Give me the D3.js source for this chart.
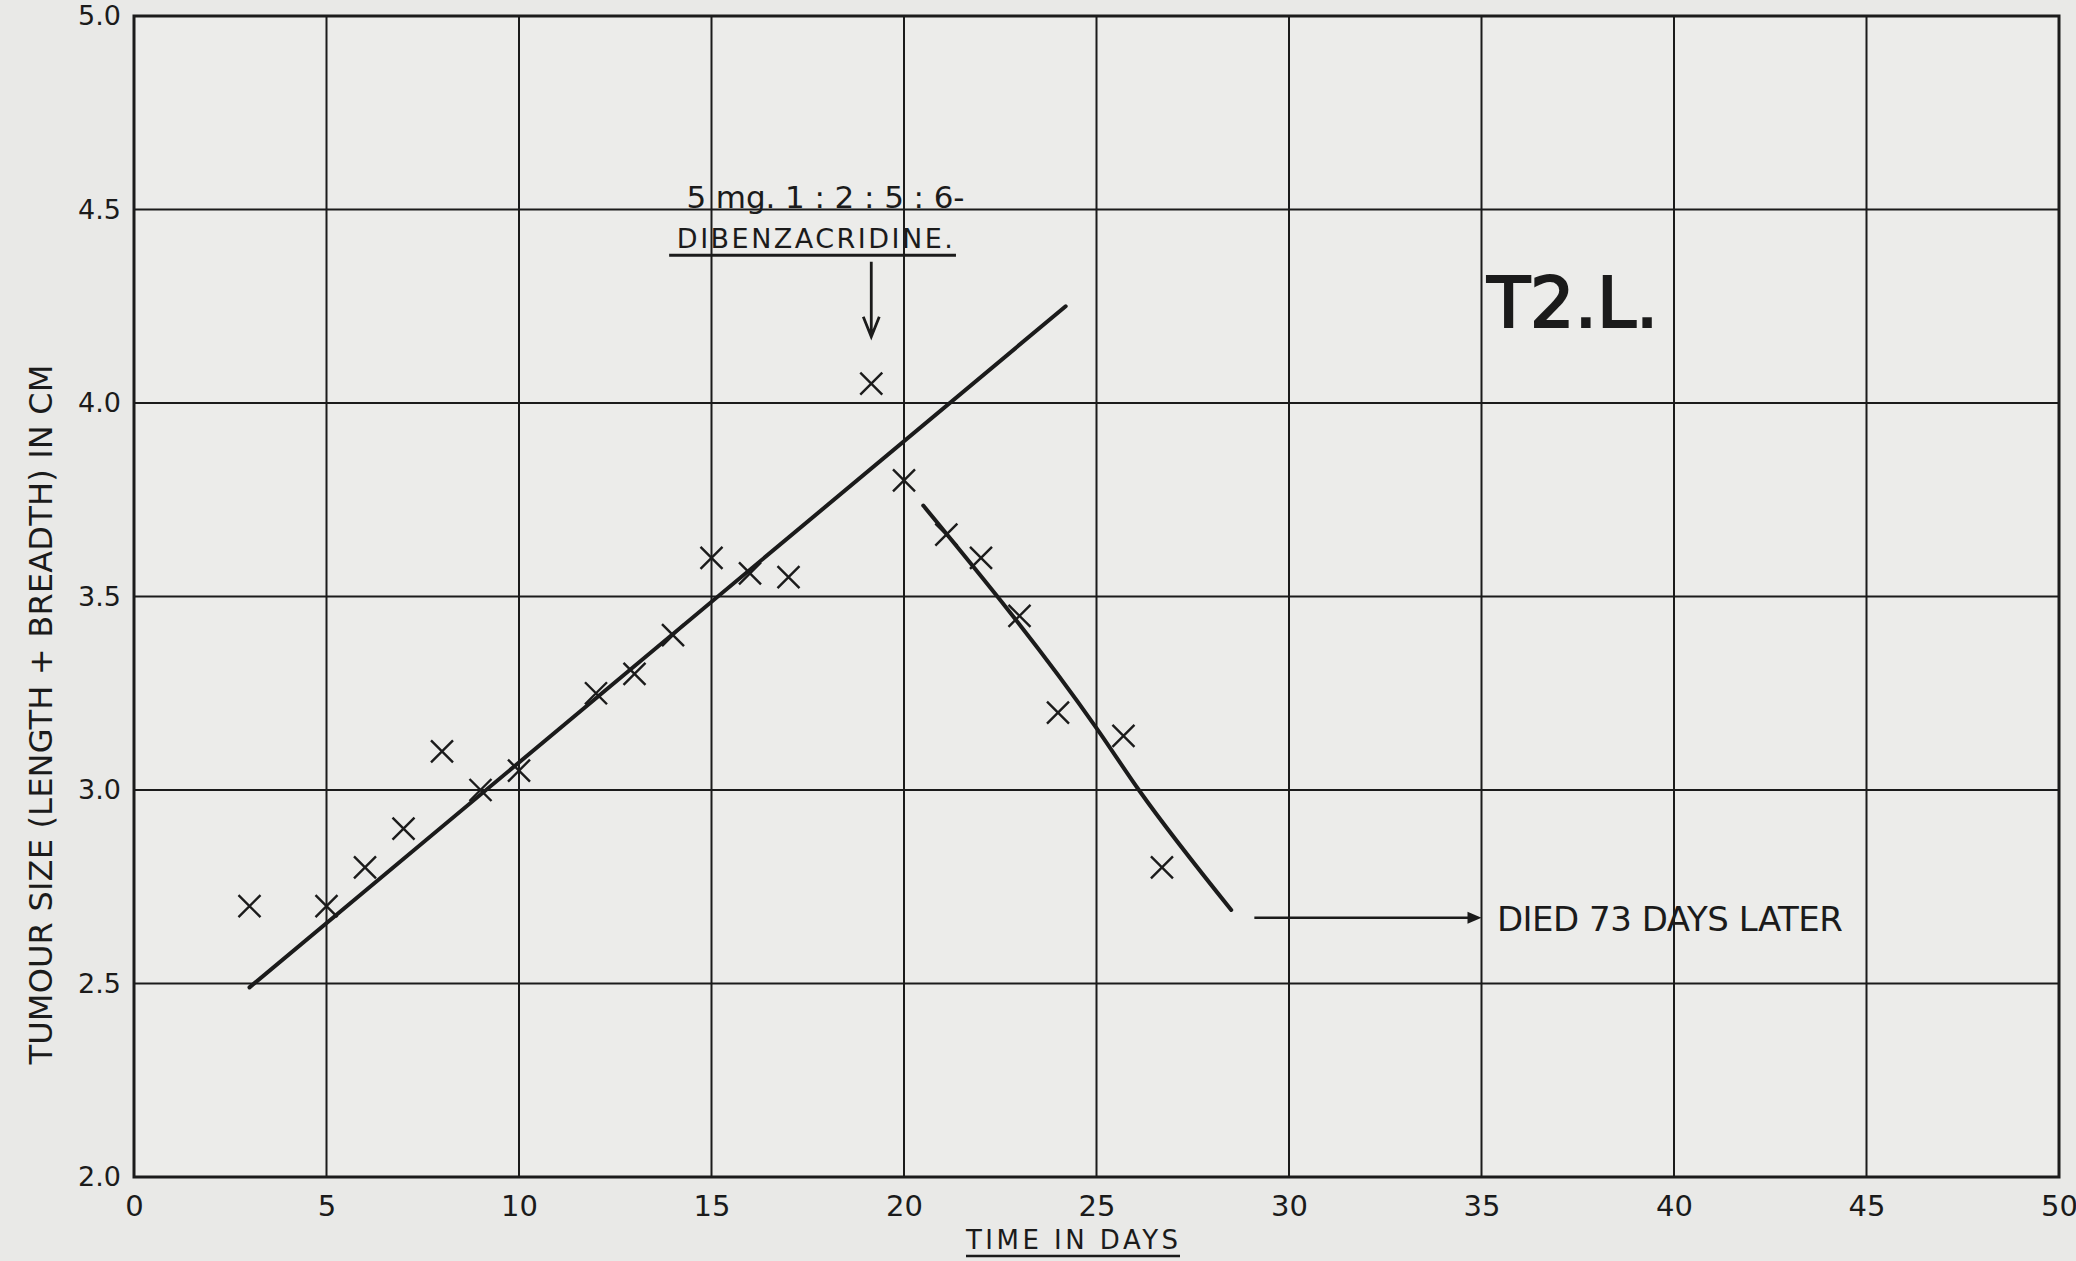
<!DOCTYPE html>
<html>
<head>
<meta charset="utf-8">
<script src="https://cdn.jsdelivr.net/npm/d3@7"></script>
<style>
  body { margin: 0; background: #e9e9e7; }
  svg { display: block; }
</style>
</head>
<body>
<div id="chart"></div>
<script>
// measured points (day, tumour size in cm)
const days  = [3, 5, 6, 7, 8, 9, 10, 12, 13, 14, 15, 16, 17, 19.15, 20, 21.1, 22, 23, 24, 25.7, 26.7];
const sizes = [2.7, 2.7, 2.8, 2.9, 3.1, 3.0, 3.05, 3.25, 3.3, 3.4, 3.6, 3.56, 3.55, 4.05, 3.8, 3.66, 3.6, 3.45, 3.2, 3.14, 2.8];

// hand drawn fit lines
const riseDays  = [3.0, 24.2];
const riseSizes = [2.49, 4.25];
const fallDays  = [20.5, 25.0, 26.1, 28.5];
const fallSizes = [3.735, 3.16, 3.0, 2.69];

const xTicks = [0, 5, 10, 15, 20, 25, 30, 35, 40, 45, 50];
const yTicks = [2.0, 2.5, 3.0, 3.5, 4.0, 4.5, 5.0];

let dimensions = {
  width: 2076,
  height: 1261,
  margin: { top: 16, bottom: 84, left: 134, right: 17 }
};

const ink = '#1b1b1b';
const font = '"DejaVu Sans", "Liberation Sans", sans-serif';

const svg = d3.select('#chart')
  .append('svg')
  .attr('width', dimensions.width)
  .attr('height', dimensions.height)
  .style('font-family', font);

const x = d3.scaleLinear()
  .domain([0, 50])
  .range([dimensions.margin.left, dimensions.width - dimensions.margin.right]);

const y = d3.scaleLinear()
  .domain([2, 5])
  .range([dimensions.height - dimensions.margin.bottom, dimensions.margin.top]);

// paper
svg.append('rect')
  .attr('width', dimensions.width)
  .attr('height', dimensions.height)
  .attr('fill', '#e9e9e7');

svg.append('rect')
  .attr('x', x(0)).attr('y', y(5))
  .attr('width', x(50) - x(0)).attr('height', y(2) - y(5))
  .attr('fill', '#ececea');

// grid
const grid = svg.append('g').attr('stroke', ink).attr('stroke-width', 2);
grid.selectAll('.vx')
  .data(xTicks)
  .join('line')
  .attr('x1', d => x(d)).attr('x2', d => x(d))
  .attr('y1', y(2)).attr('y2', y(5));
grid.selectAll('.hy')
  .data(yTicks)
  .join('line')
  .attr('class', 'hy')
  .attr('y1', d => y(d)).attr('y2', d => y(d))
  .attr('x1', x(0)).attr('x2', x(50));

// frame
svg.append('rect')
  .attr('x', x(0)).attr('y', y(5))
  .attr('width', x(50) - x(0)).attr('height', y(2) - y(5))
  .attr('fill', 'none')
  .attr('stroke', ink)
  .attr('stroke-width', 3);

// axes (labels only, the grid is drawn above)
svg.append('g')
  .attr('transform', `translate(0, ${y(2)})`)
  .call(d3.axisBottom(x).tickValues(xTicks).tickSize(0).tickPadding(18).tickFormat(d3.format('d')))
  .call(g => g.select('.domain').remove())
  .selectAll('text')
  .style('font-size', '29px')
  .style('font-family', font)
  .attr('fill', ink);

svg.append('g')
  .attr('transform', `translate(${x(0)}, 0)`)
  .call(d3.axisLeft(y).tickValues(yTicks).tickSize(0).tickPadding(13).tickFormat(d3.format('.1f')))
  .call(g => g.select('.domain').remove())
  .selectAll('text')
  .style('font-size', '27px')
  .style('font-family', font)
  .attr('fill', ink);

// fit lines
const line = d3.line().x(d => x(d[0])).y(d => y(d[1]));

svg.append('path')
  .datum(d3.zip(riseDays, riseSizes))
  .attr('d', line)
  .attr('fill', 'none')
  .attr('stroke', ink)
  .attr('stroke-width', 4)
  .attr('stroke-linecap', 'round');

svg.append('path')
  .datum(d3.zip(fallDays, fallSizes))
  .attr('d', line.curve(d3.curveMonotoneX))
  .attr('fill', 'none')
  .attr('stroke', ink)
  .attr('stroke-width', 4)
  .attr('stroke-linecap', 'round');

// crosses
svg.append('g')
  .selectAll('path')
  .data(d3.zip(days, sizes))
  .join('path')
  .attr('transform', d => `translate(${x(d[0])}, ${y(d[1])})`)
  .attr('d', 'M-11,-11L11,11M-11,11L11,-11')
  .attr('stroke', ink)
  .attr('stroke-width', 2.4)
  .attr('fill', 'none');

// drug annotation
const note = svg.append('g').attr('fill', ink);
note.append('text')
  .attr('x', x(14.35)).attr('y', y(4.505))
  .attr('textLength', 278).attr('lengthAdjust', 'spacing')
  .style('font-size', '31px')
  .text('5 mg. 1 : 2 : 5 : 6-');
note.append('text')
  .attr('x', x(14.1)).attr('y', y(4.4))
  .attr('textLength', 276).attr('lengthAdjust', 'spacing')
  .style('font-size', '27px')
  .text('DIBENZACRIDINE.');
note.append('line')
  .attr('x1', x(13.9)).attr('x2', x(21.35))
  .attr('y1', y(4.4) + 7).attr('y2', y(4.4) + 7)
  .attr('stroke', ink).attr('stroke-width', 3);

const ax = x(19.15), ay0 = y(4.365), ay1 = y(4.171);
note.append('path')
  .attr('d', `M${ax},${ay0}L${ax},${ay1}M${ax - 8},${ay1 - 20}L${ax},${ay1}L${ax + 8},${ay1 - 20}`)
  .attr('fill', 'none')
  .attr('stroke', ink).attr('stroke-width', 2.8);

// died annotation
const dx0 = x(29.1), dx1 = x(35), dy = y(2.67);
svg.append('line')
  .attr('x1', dx0).attr('x2', dx1 - 10)
  .attr('y1', dy).attr('y2', dy)
  .attr('stroke', ink).attr('stroke-width', 2.5);
svg.append('path')
  .attr('d', `M${dx1},${dy}L${dx1 - 14},${dy - 6}L${dx1 - 14},${dy + 6}Z`)
  .attr('fill', ink);
svg.append('text')
  .attr('x', x(35.4)).attr('y', dy + 13)
  .attr('textLength', 346).attr('lengthAdjust', 'spacing')
  .style('font-size', '34px')
  .attr('fill', ink)
  .text('DIED 73 DAYS LATER');

// panel label
svg.append('text')
  .attr('x', x(35.15)).attr('y', y(4.196))
  .attr('textLength', 171).attr('lengthAdjust', 'spacing')
  .style('font-size', '70px')
  .attr('fill', ink)
  .attr('stroke', ink)
  .attr('stroke-width', 2.2)
  .text('T2.L.');

// axis titles
svg.append('text')
  .attr('x', (966 + 1178) / 2).attr('y', y(2) + 72)
  .attr('text-anchor', 'middle')
  .attr('textLength', 212).attr('lengthAdjust', 'spacing')
  .style('font-size', '26px')
  .attr('fill', ink)
  .text('TIME IN DAYS');
svg.append('line')
  .attr('x1', 966).attr('x2', 1180)
  .attr('y1', y(2) + 79).attr('y2', y(2) + 79)
  .attr('stroke', ink).attr('stroke-width', 2.5);

svg.append('text')
  .attr('transform', `translate(52, ${(y(4.07) + y(2.32)) / 2}) rotate(-90)`)
  .attr('text-anchor', 'middle')
  .attr('textLength', 700).attr('lengthAdjust', 'spacing')
  .style('font-size', '32px')
  .attr('fill', ink)
  .text('TUMOUR SIZE (LENGTH + BREADTH) IN CM');
</script>
</body>
</html>
